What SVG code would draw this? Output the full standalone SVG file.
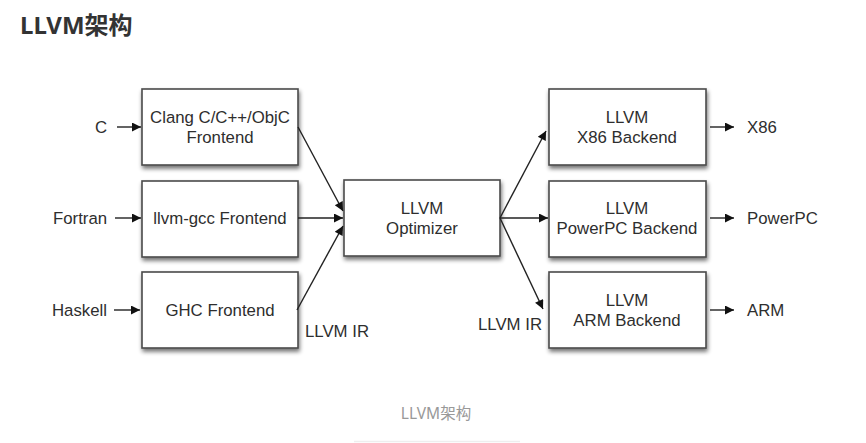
<svg xmlns="http://www.w3.org/2000/svg" width="866" height="443" viewBox="0 0 866 443">
<style>
.box{fill:#fff;stroke:#4a4a4a;stroke-width:1.6}
.t{font-family:"Liberation Sans",Arial,sans-serif;font-size:16.8px;fill:#2e2e2e}
.c{text-anchor:middle}
.ln{stroke:#222;stroke-width:1.4;fill:none;marker-end:url(#ah)}
</style>
<defs>
<marker id="ah" viewBox="0 0 10 10" refX="10" refY="5" markerWidth="12" markerHeight="9" markerUnits="userSpaceOnUse" orient="auto">
<path d="M0,0 L10,5 L0,10 z" fill="#111"/>
</marker>
<filter id="sh" x="-10%" y="-10%" width="125%" height="130%">
<feGaussianBlur in="SourceAlpha" stdDeviation="2"/>
<feOffset dx="1" dy="3"/>
<feComponentTransfer><feFuncA type="linear" slope="0.55"/></feComponentTransfer>
<feMerge><feMergeNode/><feMergeNode in="SourceGraphic"/></feMerge>
</filter>
</defs>
<rect width="866" height="443" fill="#fff"/>
<text x="20" y="34" style="font-family:'Noto Sans','Noto Sans CJK SC',sans-serif;font-size:24px;font-weight:bold;fill:#333">LLVM架构</text>

<g id="clang"><rect class="box" filter="url(#sh)" x="142" y="89" width="156" height="76"/><text class="t c" x="220" y="123">Clang C/C++/ObjC</text><text class="t c" x="220" y="143">Frontend</text></g>
<g id="llvmgcc"><rect class="box" filter="url(#sh)" x="142" y="181" width="156" height="76"/><text class="t c" x="220" y="224">llvm-gcc Frontend</text></g>
<g id="ghc"><rect class="box" filter="url(#sh)" x="142" y="272" width="156" height="76"/><text class="t c" x="220" y="316">GHC Frontend</text></g>
<g id="opt"><rect class="box" filter="url(#sh)" x="344" y="180" width="156" height="76"/><text class="t c" x="422" y="214">LLVM</text><text class="t c" x="422" y="234">Optimizer</text></g>
<g id="x86"><rect class="box" filter="url(#sh)" x="549" y="89" width="157" height="76"/><text class="t c" x="627" y="123">LLVM</text><text class="t c" x="627" y="143">X86 Backend</text></g>
<g id="ppc"><rect class="box" filter="url(#sh)" x="549" y="181" width="157" height="76"/><text class="t c" x="627" y="214">LLVM</text><text class="t c" x="627" y="234">PowerPC Backend</text></g>
<g id="arm"><rect class="box" filter="url(#sh)" x="549" y="272" width="157" height="76"/><text class="t c" x="627" y="306">LLVM</text><text class="t c" x="627" y="326">ARM Backend</text></g>

<g id="in-labels">
<text class="t" x="95" y="133">C</text>
<text class="t" x="53" y="224">Fortran</text>
<text class="t" x="52" y="316">Haskell</text>
<text class="t" x="747" y="133">X86</text>
<text class="t" x="747" y="224">PowerPC</text>
<text class="t" x="747" y="316">ARM</text>
<text class="t" x="305" y="337">LLVM IR</text>
<text class="t" x="478" y="330">LLVM IR</text>
</g>

<g id="connectors">
<line class="ln" x1="117" y1="127" x2="141" y2="127"/>
<line class="ln" x1="115" y1="218" x2="141" y2="218"/>
<line class="ln" x1="114" y1="310" x2="140" y2="310"/>
<line class="ln" x1="298" y1="127" x2="343" y2="211"/>
<line class="ln" x1="298" y1="218" x2="343" y2="218"/>
<line class="ln" x1="297" y1="310" x2="343" y2="226"/>
<line class="ln" x1="500" y1="218" x2="546" y2="131"/>
<line class="ln" x1="500" y1="218" x2="548" y2="218"/>
<line class="ln" x1="500" y1="218" x2="543" y2="309"/>
<line class="ln" x1="710" y1="127" x2="734" y2="127"/>
<line class="ln" x1="710" y1="218" x2="734" y2="218"/>
<line class="ln" x1="710" y1="310" x2="734" y2="310"/>
</g>

<text x="436" y="419" text-anchor="middle" style="font-family:'Noto Sans','Noto Sans CJK SC',sans-serif;font-size:15.5px;fill:#999">LLVM架构</text>
<line x1="354" y1="441.5" x2="520" y2="441.5" stroke="#eee" stroke-width="1.5"/>
</svg>
